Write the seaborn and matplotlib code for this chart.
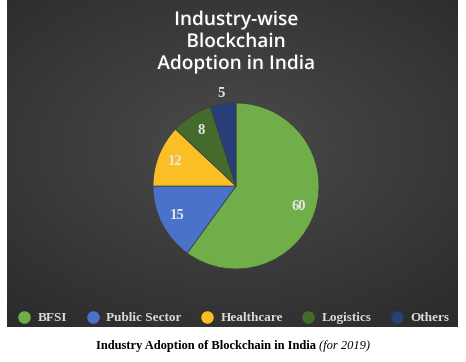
import numpy as np
import matplotlib.pyplot as plt
import matplotlib.patheffects as pe
from matplotlib.lines import Line2D
import seaborn as sns

# ── Data ──────────────────────────────────────────────────────────────────────
sectors = ['BFSI', 'Public Sector', 'Healthcare', 'Logistics', 'Others']
adoption = [60, 15, 12, 8, 5]
colors = ['#6fae48', '#4a72c9', '#fbbf26', '#456b2c', '#283f7a']

title_lines = ['Industry-wise', 'Blockchain', 'Adoption in India']
caption_main = 'Industry Adoption of Blockchain in India'
caption_year = '(for 2019)'

# ── Setup ─────────────────────────────────────────────────────────────────────
sns.set_theme(style="white")
W, H = 466, 362
fig = plt.figure(figsize=(W / 100, H / 100), dpi=100)
fig.patch.set_facecolor('white')

# dark gradient panel
bg = fig.add_axes([7 / W, 1 - 327 / H, 451 / W, 327 / H])
yy, xx = np.mgrid[-1:1:200j, -1:1:280j]
shade = np.sqrt((xx * 0.9) ** 2 + ((yy + 0.1) * 1.0) ** 2)
bg.imshow(shade, cmap=sns.blend_palette(['#4b4b4b', '#2b2b2b'], as_cmap=True),
          aspect='auto', vmin=0, vmax=1.4, extent=[0, 1, 0, 1])
bg.set_axis_off()

# title
for i, line in enumerate(title_lines):
    fig.text(236 / W, 1 - (20 + 22 * i) / H, line, color='white', fontsize=13.7,
             family='Open Sans', fontweight='semibold', ha='center', va='center',
             path_effects=[pe.withSimplePatchShadow(offset=(1, -1), alpha=0.6)])

# ── Pie ───────────────────────────────────────────────────────────────────────
cx, cy, r = 236, 186, 83
ax = fig.add_axes([(cx - r) / W, 1 - (cy + r) / H, 2 * r / W, 2 * r / H])
wedges, _ = ax.pie(adoption, colors=colors, startangle=90, counterclock=False,
                   wedgeprops=dict(edgecolor='#3c3c3c', linewidth=0.5))
ax.set_xlim(-1, 1)
ax.set_ylim(-1, 1)
ax.set_aspect('auto')
ax.set_axis_off()

for w, val in zip(wedges, adoption):
    mid = np.deg2rad((w.theta1 + w.theta2) / 2)
    dist = 1.13 if val < 6 else 0.79
    ax.text(dist * np.cos(mid), dist * np.sin(mid), str(val), color='#e6e6e6',
            fontsize=10.5, fontweight='bold', family='Liberation Serif',
            ha='center', va='center', clip_on=False)

# ── Legend ────────────────────────────────────────────────────────────────────
handles = [Line2D([], [], marker='o', linestyle='', markersize=8,
                  markerfacecolor=c, markeredgecolor=c) for c in colors]
leg = fig.legend(handles, sectors, loc='center', bbox_to_anchor=(233 / W, 1 - 318 / H),
                 ncol=5, frameon=False, handletextpad=0.4, columnspacing=1.35,
                 handlelength=1.2,
                 prop={'family': 'Liberation Serif', 'weight': 'bold', 'size': 9.5})
for t in leg.get_texts():
    t.set_color('#d9d9d9')

# ── Caption ───────────────────────────────────────────────────────────────────
fig.text(316 / W, 1 - 346 / H, caption_main, fontsize=9.0, fontweight='bold',
         family='Liberation Serif', ha='right', va='center', color='black')
fig.text(319 / W, 1 - 346 / H, caption_year, fontsize=9.0, style='italic',
         family='Liberation Serif', ha='left', va='center', color='black')

plt.savefig('out.png', dpi=100)
plt.close()
